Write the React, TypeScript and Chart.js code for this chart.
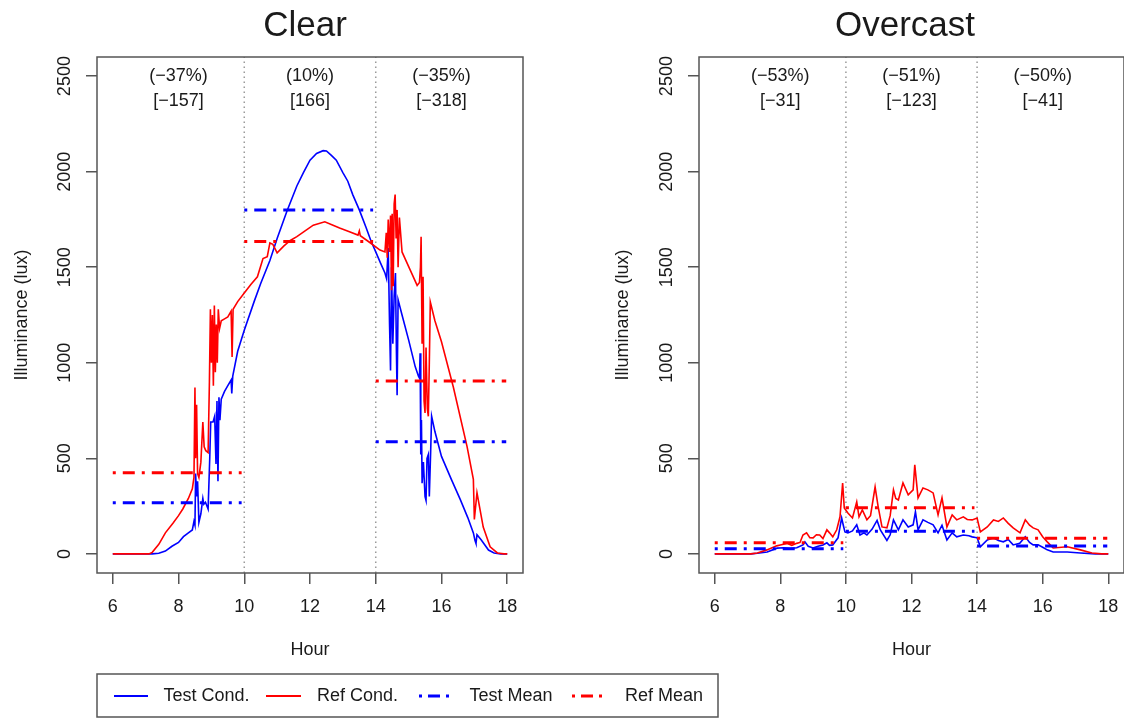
import { useEffect, useRef } from 'react';
import { Chart, registerables } from 'chart.js';

Chart.register(...registerables);

const FONT = '"Liberation Sans", Arial, Helvetica, sans-serif';
const BLUE = '#0000ff';
const RED = '#ff0000';
const TEXT = '#1a1a1a';
const AXIS = '#555555';

// ---- axis ticks / periods ----
const hourTicks = [6, 8, 10, 12, 14, 16, 18];
const luxTicks = [0, 500, 1000, 1500, 2000, 2500];
const periodStart = [6, 10, 14];
const periodEnd = [9.92, 13.92, 17.97];
const periodLabelHour = [8, 12, 16];
const dividerHours = [10, 14];

// ---- Clear ----
const clearTestHours = [6.0, 7.2, 7.4, 7.6, 7.8, 8.0, 8.15, 8.3, 8.42, 8.47, 8.5, 8.52, 8.55, 8.58, 8.62, 8.68, 8.74, 8.77, 8.82, 8.9, 8.95, 8.98, 9.05, 9.1, 9.14, 9.17, 9.2, 9.23, 9.26, 9.3, 9.4, 9.5, 9.6, 9.62, 9.65, 9.8, 10.0, 10.3, 10.5, 10.78, 11.0, 11.3, 11.6, 11.8, 12.0, 12.2, 12.4, 12.5, 12.65, 12.8, 13.0, 13.15, 13.3, 13.5, 13.7, 13.85, 14.0, 14.15, 14.28, 14.33, 14.38, 14.42, 14.45, 14.48, 14.52, 14.56, 14.6, 14.63, 14.65, 14.68, 14.8, 15.0, 15.2, 15.3, 15.33, 15.35, 15.37, 15.39, 15.41, 15.45, 15.5, 15.53, 15.56, 15.6, 15.63, 15.67, 15.7, 15.8, 16.0, 16.3, 16.57, 16.8, 16.97, 17.02, 17.05, 17.08, 17.2, 17.43, 17.6, 17.8, 18.0];
const clearTestLux = [0, 0, 3, 15, 40, 60, 90, 110, 125, 170, 150, 420, 300, 380, 165, 210, 290, 260, 270, 235, 500, 690, 690, 720, 470, 800, 380, 820, 700, 810, 850, 880, 910, 840, 930, 1060, 1170, 1320, 1415, 1535, 1650, 1794, 1925, 1995, 2060, 2095, 2110, 2108, 2085, 2060, 1995, 1950, 1880, 1800, 1710, 1640, 1580, 1520, 1470, 1440, 1600, 1200, 960, 1500, 1100, 1350, 1470, 1050, 830, 1330, 1250, 1120, 980, 930, 920, 1050, 520, 700, 370, 480, 300, 280, 500, 520, 300, 530, 720, 640, 510, 390, 285, 190, 110, 70, 55, 100, 75, 20, 5, 0, 0];

const clearRefHours = [6.0, 7.1, 7.2, 7.4, 7.6, 7.83, 8.0, 8.13, 8.3, 8.42, 8.47, 8.5, 8.52, 8.55, 8.58, 8.62, 8.68, 8.74, 8.78, 8.83, 8.9, 8.94, 8.97, 9.0, 9.03, 9.06, 9.09, 9.12, 9.15, 9.18, 9.21, 9.25, 9.3, 9.4, 9.5, 9.6, 9.63, 9.66, 9.8, 10.0, 10.2, 10.4, 10.57, 10.7, 10.78, 10.87, 11.0, 11.2, 11.4, 11.6, 11.85, 12.1, 12.45, 12.7, 12.9, 13.2, 13.46, 13.5, 13.53, 13.83, 14.13, 14.28, 14.32, 14.35, 14.38, 14.42, 14.45, 14.48, 14.5, 14.53, 14.56, 14.59, 14.62, 14.65, 14.68, 14.72, 14.8, 15.05, 15.26, 15.33, 15.36, 15.38, 15.41, 15.44, 15.47, 15.5, 15.53, 15.57, 15.6, 15.63, 15.66, 15.8, 16.0, 16.36, 16.78, 16.97, 17.0, 17.08, 17.27, 17.48, 17.7, 17.9, 18.0];
const clearRefLux = [0, 0, 8, 50, 110, 160, 200, 235, 290, 340, 400, 870, 500, 780, 420, 400, 480, 690, 560, 540, 530, 900, 1280, 1000, 1250, 880, 1300, 950, 1200, 1000, 1280, 1180, 1220, 1230, 1240, 1270, 1030, 1280, 1320, 1365, 1410, 1450, 1545, 1555, 1627, 1620, 1575, 1610, 1640, 1660, 1690, 1720, 1738, 1720, 1705, 1685, 1668, 1690, 1665, 1628, 1590, 1580, 1680, 1550, 1750, 1580, 1770, 1380, 1780, 1400, 1830, 1880, 1650, 1800, 1500, 1760, 1580, 1485, 1405, 1420, 1500, 1660, 1100, 1450, 800, 737, 1080, 760, 720, 1000, 1318, 1220, 1110, 873, 560, 390, 180, 320, 140, 37, 5, 0, 0];

const clearTestMean = [267, 1800, 587];
const clearRefMean = [424, 1634, 905];
const clearPctLabels = ['(\u221237%)', '(10%)', '(\u221235%)'];
const clearDiffLabels = ['[\u2212157]', '[166]', '[\u2212318]'];

// ---- Overcast ----
const overcastTestHours = [6.0, 7.1, 7.3, 7.6, 7.9, 8.1, 8.3, 8.5, 8.69, 8.75, 8.85, 9.0, 9.15, 9.3, 9.42, 9.5, 9.6, 9.76, 9.87, 9.92, 9.97, 10.06, 10.2, 10.33, 10.43, 10.55, 10.64, 10.8, 10.95, 11.05, 11.25, 11.35, 11.45, 11.6, 11.74, 11.9, 12.05, 12.12, 12.2, 12.35, 12.5, 12.66, 12.81, 12.93, 13.08, 13.24, 13.38, 13.58, 13.75, 13.85, 14.0, 14.1, 14.31, 14.5, 14.65, 14.8, 14.95, 15.1, 15.3, 15.47, 15.6, 15.71, 15.86, 16.0, 16.14, 16.32, 16.75, 17.15, 17.6, 18.0];
const overcastTestLux = [0, 0, 3, 10, 30, 32, 28, 32, 47, 63, 40, 31, 40, 47, 58, 45, 47, 84, 188, 150, 115, 110, 120, 152, 99, 110, 99, 130, 175, 125, 70, 100, 178, 126, 178, 141, 152, 220, 126, 178, 165, 152, 110, 150, 73, 110, 89, 99, 95, 89, 84, 37, 73, 84, 70, 63, 75, 47, 55, 90, 60, 47, 47, 35, 21, 10, 10, 5, 0, 0];

const overcastRefHours = [6.0, 7.1, 7.3, 7.59, 7.89, 8.0, 8.2, 8.35, 8.5, 8.6, 8.69, 8.8, 8.9, 9.0, 9.1, 9.2, 9.3, 9.42, 9.5, 9.6, 9.72, 9.82, 9.9, 9.95, 10.06, 10.2, 10.33, 10.4, 10.5, 10.64, 10.75, 10.89, 10.98, 11.1, 11.25, 11.35, 11.45, 11.52, 11.6, 11.74, 11.9, 12.05, 12.1, 12.2, 12.35, 12.5, 12.66, 12.81, 12.93, 13.08, 13.24, 13.38, 13.58, 13.7, 13.85, 14.0, 14.1, 14.31, 14.5, 14.65, 14.8, 14.95, 15.1, 15.31, 15.47, 15.6, 15.71, 15.86, 16.0, 16.14, 16.32, 16.75, 17.15, 17.5, 17.8, 18.0];
const overcastRefLux = [0, 0, 5, 21, 42, 47, 55, 45, 55, 60, 99, 110, 85, 84, 100, 99, 80, 126, 110, 89, 126, 194, 371, 240, 214, 188, 272, 194, 230, 178, 200, 350, 250, 141, 136, 200, 335, 290, 282, 371, 309, 335, 466, 293, 345, 335, 319, 204, 293, 141, 204, 178, 194, 180, 178, 188, 115, 141, 178, 170, 188, 160, 136, 110, 178, 150, 136, 126, 90, 63, 31, 37, 21, 5, 0, 0];

const overcastTestMean = [27, 118, 41];
const overcastRefMean = [58, 241, 82];
const overcastPctLabels = ['(\u221253%)', '(\u221251%)', '(\u221250%)'];
const overcastDiffLabels = ['[\u221231]', '[\u2212123]', '[\u221241]'];

// ---- legend ----
const legendLabels = ['Test Cond.', 'Ref Cond.', 'Test Mean', 'Ref Mean'];
const legendColors = [BLUE, RED, BLUE, RED];
const legendIsMean = [false, false, true, true];

const MEAN_DASH = [3, 7, 12, 7];

const toPoints = (hours: number[], lux: number[]) => hours.map((h, i) => ({ x: h, y: lux[i] }));

const decorPlugin = {
  id: 'panelDecor',
  afterDatasetsDraw(chart: any, _args: any, opts: any) {
    const { ctx, chartArea: a, scales } = chart;
    ctx.save();
    ctx.strokeStyle = AXIS;
    ctx.lineWidth = 1.5;
    ctx.strokeRect(a.left, a.top, a.right - a.left, a.bottom - a.top);

    ctx.fillStyle = TEXT;
    ctx.font = `18px ${FONT}`;
    ctx.textAlign = 'center';
    ctx.textBaseline = 'middle';
    const y0 = scales.y.getPixelForValue(2500);
    periodLabelHour.forEach((h, i) => {
      const x = scales.x.getPixelForValue(h);
      ctx.fillText(opts.pct[i], x, y0 - 0.5);
      ctx.fillText(opts.diff[i], x, y0 + 24.5);
    });

    ctx.font = `35px ${FONT}`;
    ctx.textBaseline = 'alphabetic';
    ctx.fillText(opts.title, opts.titleX, 36);

    if (opts.legend) {
      ctx.strokeStyle = AXIS;
      ctx.lineWidth = 1.5;
      ctx.strokeRect(97, 674, 621, 43);
      const lineX0 = [114, 266, 419, 572];
      const lineX1 = [148, 301, 449, 602];
      const textX = [163.5, 317, 469.5, 625];
      const ly = 696;
      legendLabels.forEach((lab, i) => {
        ctx.beginPath();
        ctx.strokeStyle = legendColors[i];
        ctx.lineWidth = legendIsMean[i] ? 3 : 2;
        ctx.setLineDash(legendIsMean[i] ? [3, 6, 12, 6] : []);
        ctx.moveTo(lineX0[i], ly);
        ctx.lineTo(lineX1[i], ly);
        ctx.stroke();
        ctx.setLineDash([]);
        ctx.fillStyle = TEXT;
        ctx.font = `18px ${FONT}`;
        ctx.textAlign = 'left';
        ctx.textBaseline = 'middle';
        ctx.fillText(lab, textX[i], ly);
      });
    }
    ctx.restore();
  },
};

function buildConfig(p: any): any {
  const datasets: any[] = [];
  periodStart.forEach((s, i) => {
    datasets.push({
      data: [{ x: s, y: p.refMean[i] }, { x: periodEnd[i], y: p.refMean[i] }],
      borderColor: RED, borderWidth: 3, borderDash: MEAN_DASH,
    });
  });
  periodStart.forEach((s, i) => {
    datasets.push({
      data: [{ x: s, y: p.testMean[i] }, { x: periodEnd[i], y: p.testMean[i] }],
      borderColor: BLUE, borderWidth: 3, borderDash: MEAN_DASH,
    });
  });
  datasets.push({ data: toPoints(p.refHours, p.refLux), borderColor: RED, borderWidth: 1.6 });
  datasets.push({ data: toPoints(p.testHours, p.testLux), borderColor: BLUE, borderWidth: 1.6 });
  dividerHours.forEach((h) => {
    datasets.push({
      data: [{ x: h, y: -100 }, { x: h, y: 2600 }],
      borderColor: '#9a9a9a', borderWidth: 1.5, borderDash: [1.5, 3.5],
    });
  });

  const tickFont = { family: FONT, size: 18 };
  return {
    type: 'line',
    data: { datasets },
    plugins: [decorPlugin],
    options: {
      responsive: false,
      animation: false,
      devicePixelRatio: 1,
      events: [],
      layout: { padding: p.padding },
      elements: { line: { tension: 0, fill: false }, point: { radius: 0 } },
      plugins: {
        legend: { display: false },
        tooltip: { enabled: false },
        panelDecor: {
          pct: p.pct, diff: p.diff, title: p.title, titleX: p.titleX, legend: p.legend,
        },
      },
      scales: {
        x: {
          type: 'linear', min: 5.52, max: 18.48,
          afterBuildTicks: (s: any) => { s.ticks = hourTicks.map((v) => ({ value: v })); },
          afterFit: (s: any) => { s.height = 100; s.paddingLeft = 0; s.paddingRight = 0; },
          grid: { display: true, drawOnChartArea: false, drawTicks: true, tickLength: 11, color: AXIS, lineWidth: 1.5 },
          border: { display: false },
          ticks: { font: tickFont, color: TEXT, padding: 12, maxRotation: 0, autoSkip: false, callback: (v: any) => String(v) },
          title: { display: true, text: 'Hour', font: tickFont, color: TEXT, padding: { top: 0, bottom: 12 } },
        },
        y: {
          type: 'linear', min: -100, max: 2600,
          afterBuildTicks: (s: any) => { s.ticks = luxTicks.map((v) => ({ value: v })); },
          afterFit: (s: any) => { s.width = p.yWidth; s.paddingTop = 0; s.paddingBottom = 0; },
          grid: { display: true, drawOnChartArea: false, drawTicks: true, tickLength: 11, color: AXIS, lineWidth: 1.5 },
          border: { display: false },
          ticks: { font: tickFont, color: TEXT, padding: 1, minRotation: 90, maxRotation: 90, crossAlign: 'center', autoSkip: false, callback: (v: any) => String(v) },
          title: { display: true, text: 'Illuminance (lux)', font: tickFont, color: TEXT, padding: { top: 11, bottom: 0 } },
        },
      },
    },
  };
}

const clearPanel = {
  testHours: clearTestHours, testLux: clearTestLux, refHours: clearRefHours, refLux: clearRefLux,
  testMean: clearTestMean, refMean: clearRefMean, pct: clearPctLabels, diff: clearDiffLabels,
  title: 'Clear', titleX: 305, legend: true,
  padding: { left: 0, right: 601, top: 57, bottom: 46 }, yWidth: 97,
};

const overcastPanel = {
  testHours: overcastTestHours, testLux: overcastTestLux, refHours: overcastRefHours, refLux: overcastRefLux,
  testMean: overcastTestMean, refMean: overcastRefMean, pct: overcastPctLabels, diff: overcastDiffLabels,
  title: 'Overcast', titleX: 905, legend: false,
  padding: { left: 601, right: 0, top: 57, bottom: 46 }, yWidth: 98,
};

export default function App() {
  const leftRef = useRef<HTMLCanvasElement>(null);
  const rightRef = useRef<HTMLCanvasElement>(null);
  useEffect(() => {
    const c1 = new Chart(leftRef.current as HTMLCanvasElement, buildConfig(clearPanel));
    const c2 = new Chart(rightRef.current as HTMLCanvasElement, buildConfig(overcastPanel));
    return () => { c1.destroy(); c2.destroy(); };
  }, []);
  return (
    <div style={{ position: 'absolute', left: 0, top: 0, width: 1124, height: 719, background: '#fff', overflow: 'hidden' }}>
      <canvas ref={leftRef} width={1124} height={719} style={{ position: 'absolute', left: 0, top: 0 }} />
      <canvas ref={rightRef} width={1124} height={719} style={{ position: 'absolute', left: 0, top: 0 }} />
    </div>
  );
}
